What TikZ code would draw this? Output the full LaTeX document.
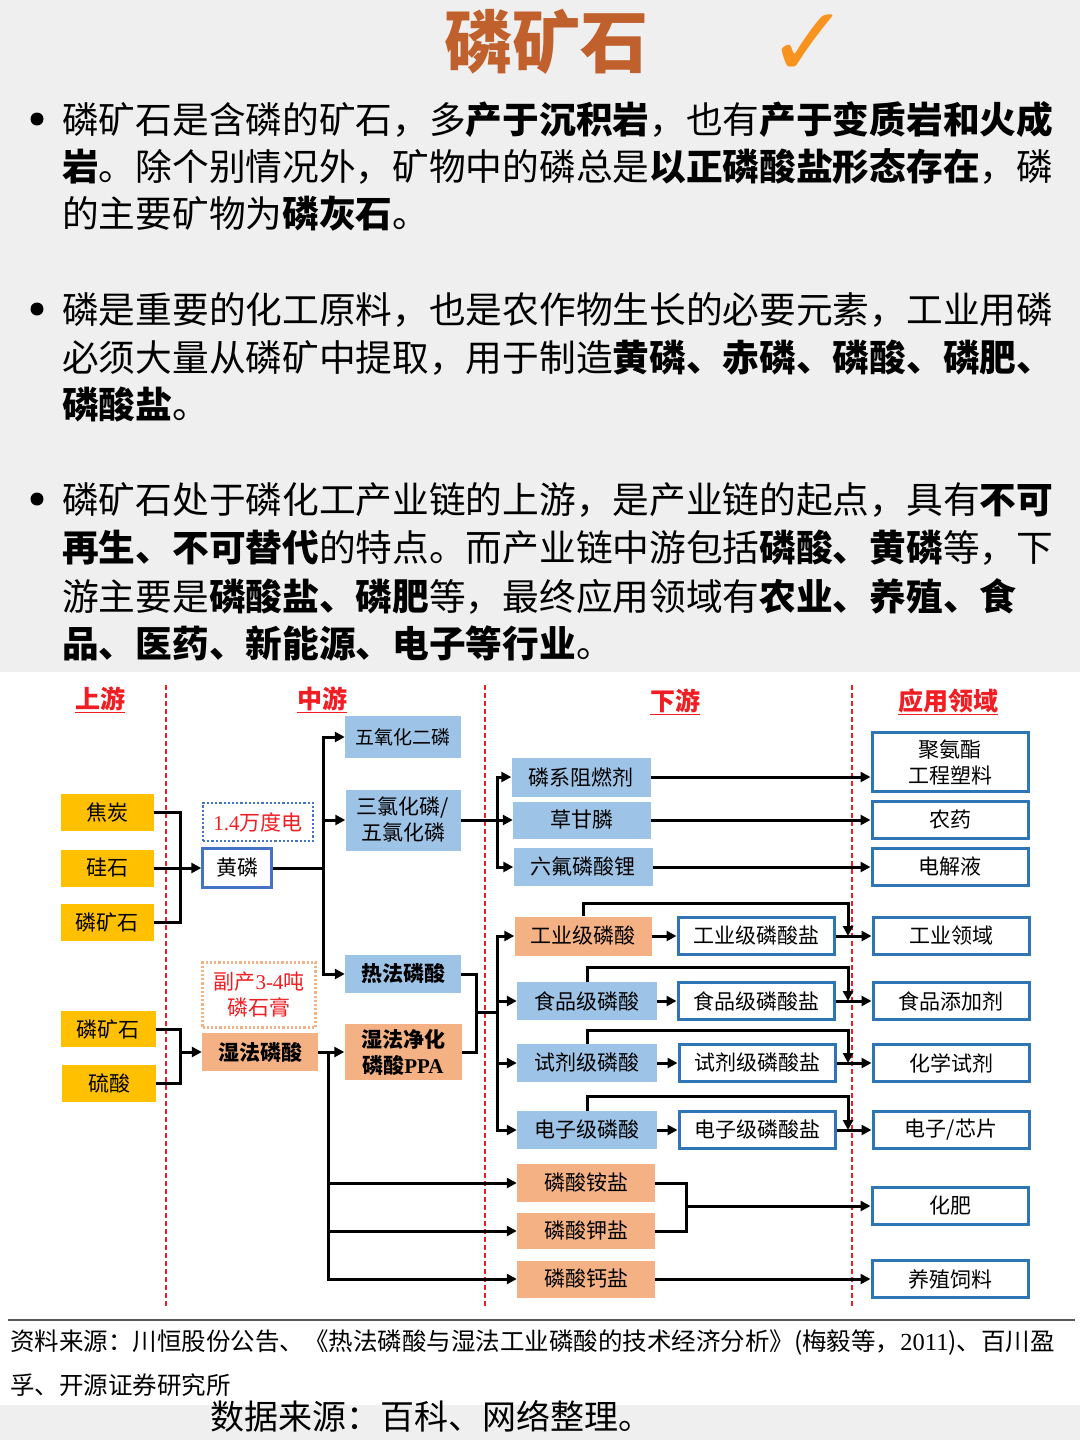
\documentclass[tikz,border=0pt]{standalone}
\usepackage{fontspec}
\setmainfont{Noto Sans CJK SC}
\newfontfamily\dejavu{DejaVu Sans}
\newfontfamily\lat{Liberation Serif}
\usetikzlibrary{arrows.meta}
\definecolor{paper}{HTML}{EFEFEF}
\definecolor{cyel}{HTML}{FFC000}
\definecolor{cblu}{HTML}{9DC3E6}
\definecolor{cora}{HTML}{F4B183}
\definecolor{cbord}{HTML}{2E75B6}
\definecolor{chl}{HTML}{4472C4}
\definecolor{cred}{HTML}{F01E23}
\definecolor{ctitle}{HTML}{C0602C}
\definecolor{ccheck}{HTML}{F7931E}
\begin{document}
\begin{tikzpicture}[x=1pt,y=-1pt,
  conn/.style={line width=3pt, draw=black},
  conna/.style={conn, -{Triangle[length=10pt,width=10pt]}},
  box/.style={inner sep=0pt, minimum height=38pt, align=center, font=\fontsize{21}{26}\selectfont, text=black},
  ybox/.style={box, fill=cyel},
  bbox/.style={box, fill=cblu},
  obox/.style={box, fill=cora},
  wbox/.style={box, fill=white, draw=cbord, line width=3pt},
  note/.style={box, fill=white, dotted, line width=2.2pt, text=cred},
  hdr/.style={inner sep=0pt, text=cred, font=\fontsize{25}{28}\selectfont\bfseries},
  para/.style={anchor=west, inner sep=0pt, font=\fontsize{36.7}{44}\selectfont, text=black},
  rdash/.style={draw=cred, line width=1.5pt, dash pattern=on 5pt off 3pt}
]
\useasboundingbox (0,0) rectangle (1080,1440);
\fill[paper] (0,0) rectangle (1080,1440);
\fill[white] (0,672) rectangle (1080,1405);

% title
\node[inner sep=0pt, text=ctitle, font=\fontsize{68}{72}\selectfont\bfseries] (title) at (546,42) {磷矿石};
\node[inner sep=0pt, text=ccheck, font=\fontsize{98}{100}\selectfont\dejavu\bfseries] (check) at (809,46) {✓};

% paragraphs
\fill (37,119) circle (6.5);
\node[para] (p11) at (62,120) {磷矿石是含磷的矿石，多{\bfseries 产于沉积岩}，也有{\bfseries 产于变质岩和火成}};
\node[para] (p12) at (62,167) {{\bfseries 岩}。除个别情况外，矿物中的磷总是{\bfseries 以正磷酸盐形态存在}，磷};
\node[para] (p13) at (62,214) {的主要矿物为{\bfseries 磷灰石}。};

\fill (37,309) circle (6.5);
\node[para] (p21) at (62,310) {磷是重要的化工原料，也是农作物生长的必要元素，工业用磷};
\node[para] (p22) at (62,358) {必须大量从磷矿中提取，用于制造{\bfseries 黄磷、赤磷、磷酸、磷肥、}};
\node[para] (p23) at (62,405) {{\bfseries 磷酸盐}。};

\fill (37,499) circle (6.5);
\node[para] (p31) at (62,500) {磷矿石处于磷化工产业链的上游，是产业链的起点，具有{\bfseries 不可}};
\node[para] (p32) at (62,548) {{\bfseries 再生、不可替代}的特点。而产业链中游包括{\bfseries 磷酸、黄磷}等，下};
\node[para] (p33) at (62,596) {游主要是{\bfseries 磷酸盐、磷肥}等，最终应用领域有{\bfseries 农业、养殖、食}};
\node[para] (p34) at (62,643) {{\bfseries 品、医药、新能源、电子等行业}。};

% headers
\node[hdr] (h1) at (100,700) {\underline{上游}};
\node[hdr] (h2) at (322,700) {\underline{中游}};
\node[hdr] (h3) at (675,702) {\underline{下游}};
\node[hdr] (h4) at (948,702) {\underline{应用领域}};

% dashed separators
\draw[rdash] (166,685) -- (166,1308);
\draw[rdash] (485,685) -- (485,1308);
\draw[rdash] (852,685) -- (852,1308);

% upstream
\node[ybox, minimum width=93pt, minimum height=37pt] (jt) at (107,812) {焦炭};
\node[ybox, minimum width=93pt, minimum height=37pt] (gs) at (107,868) {硅石};
\node[ybox, minimum width=93pt, minimum height=37pt] (lk1) at (107,922) {磷矿石};
\node[ybox, minimum width=95pt, minimum height=36pt] (lk2) at (108,1029) {磷矿石};
\node[ybox, minimum width=94pt, minimum height=37pt] (ls) at (109,1083) {硫酸};

% midstream
\node[box, fill=white, draw=chl, line width=2.4pt, minimum width=69pt, minimum height=39pt] (hl) at (237,868) {黄磷};
\node[note, draw=chl, minimum width=110pt, minimum height=38pt] (dian) at (258,822) {{\lat 1.4}万度电};
\node[obox, minimum width=116pt, font=\fontsize{21}{26}\selectfont\bfseries] (sf) at (260,1052) {湿法磷酸};
\node[note, draw=cora, minimum width=113pt, minimum height=65pt] (sg) at (259,995) {副产{\lat 3-4}吨\\磷石膏};

\node[bbox, minimum width=116pt, minimum height=42pt, font=\fontsize{19}{24}\selectfont] (wy) at (403,737) {五氧化二磷};
\node[bbox, minimum width=115pt, minimum height=61pt] (sl) at (403,820) {三氯化磷/\\五氯化磷};
\node[bbox, minimum width=116pt, font=\fontsize{21}{26}\selectfont\bfseries] (rf) at (403,974) {热法磷酸};
\node[obox, minimum width=117pt, minimum height=56pt, font=\fontsize{21}{26}\selectfont\bfseries] (jh) at (403,1052) {湿法净化\\磷酸{\lat PPA}};

% downstream
\node[bbox, minimum width=139pt, minimum height=39pt] (zr) at (581,777) {磷系阻燃剂};
\node[bbox, minimum width=138pt, minimum height=37pt] (cg) at (582,820) {草甘膦};
\node[bbox, minimum width=139pt] (lf) at (583,867) {六氟磷酸锂};
\node[obox, minimum width=137pt, minimum height=39pt] (gj) at (583,936) {工业级磷酸};
\node[bbox, minimum width=140pt] (sp) at (587,1001) {食品级磷酸};
\node[bbox, minimum width=140pt] (sj) at (587,1063) {试剂级磷酸};
\node[bbox, minimum width=140pt] (dz) at (587,1130) {电子级磷酸};
\node[wbox, minimum width=156pt, minimum height=37pt] (gjy) at (756,936) {工业级磷酸盐};
\node[wbox, minimum width=156pt, minimum height=37pt] (spy) at (756,1001) {食品级磷酸盐};
\node[wbox, minimum width=156pt, minimum height=37pt] (sjy) at (757,1063) {试剂级磷酸盐};
\node[wbox, minimum width=156pt, minimum height=37pt] (dzy) at (757,1130) {电子级磷酸盐};
\node[obox, minimum width=138pt] (ay) at (586,1183) {磷酸铵盐};
\node[obox, minimum width=138pt, minimum height=36pt] (jy) at (586,1231) {磷酸钾盐};
\node[obox, minimum width=138pt, minimum height=37pt] (gy) at (586,1279) {磷酸钙盐};

% application
\node[wbox, minimum width=156pt, minimum height=59pt] (jaz) at (950,762) {聚氨酯\\工程塑料};
\node[wbox, minimum width=156pt, minimum height=37pt] (ny) at (950,820) {农药};
\node[wbox, minimum width=156pt, minimum height=37pt] (djy) at (950,867) {电解液};
\node[wbox, minimum width=156pt, minimum height=37pt] (gyly) at (951,936) {工业领域};
\node[wbox, minimum width=156pt, minimum height=37pt] (tjj) at (951,1001) {食品添加剂};
\node[wbox, minimum width=156pt, minimum height=37pt] (hxsj) at (951,1063) {化学试剂};
\node[wbox, minimum width=156pt, minimum height=37pt] (dzxp) at (951,1130) {电子/芯片};
\node[wbox, minimum width=156pt, minimum height=37pt] (hf) at (950,1206) {化肥};
\node[wbox, minimum width=156pt, minimum height=37pt] (yz) at (950,1279) {养殖饲料};

% junction coordinates
\coordinate (u1) at (180,868);
\coordinate (u2) at (180,1052);
\coordinate (m1) at (323,868);
\coordinate (w1) at (328,1052);
\coordinate (d1) at (497,820);
\coordinate (r1) at (476,1012);
\coordinate (d2) at (497,1012);
\coordinate (f1) at (686,1206);
\coordinate (b1) at (848,936);
\coordinate (b2) at (848,1001);
\coordinate (b3) at (848,1063);
\coordinate (b4) at (848,1130);

% upstream connectors
\draw[conn] (jt.east) -| (u1);
\draw[conn] (lk1.east) -| (u1);
\draw[conna] (gs.east) -- (hl.west);
\draw[conn] (lk2.east) -| (u2);
\draw[conn] (ls.east) -| (u2);
\draw[conna] (u2) -- (sf.west);

% midstream connectors
\draw[conn] (hl.east) -- (m1);
\draw[conna] (m1) |- (wy.west);
\draw[conna] (m1) |- (sl.west);
\draw[conna] (m1) |- (rf.west);
\draw[conna] (sf.east) -- (jh.west);
\draw[conna] (w1) |- (ay.west);
\draw[conna] (w1) |- (jy.west);
\draw[conna] (w1) |- (gy.west);

\draw[conn] (sl.east) -- (d1);
\draw[conna] (d1) |- (zr.west);
\draw[conna] (d1) -- (cg.west);
\draw[conna] (d1) |- (lf.west);

\draw[conn] (rf.east) -| (r1);
\draw[conn] (jh.east) -| (r1);
\draw[conn] (r1) -- (d2);
\draw[conna] (d2) |- (gj.west);
\draw[conna] (d2) |- (sp.west);
\draw[conna] (d2) |- (sj.west);
\draw[conna] (d2) |- (dz.west);

% downstream connectors
\draw[conna] (zr.east) -- (zr.east -| jaz.west);
\draw[conna] (cg.east) -- (ny.west);
\draw[conna] (lf.east) -- (djy.west);

\draw[conna] (gj.east) -- (gjy.west);
\draw[conna] (sp.east) -- (spy.west);
\draw[conna] (sj.east) -- (sjy.west);
\draw[conna] (dz.east) -- (dzy.west);
\draw[conna] (gjy.east) -- (gyly.west);
\draw[conna] (spy.east) -- (tjj.west);
\draw[conna] (sjy.east) -- (hxsj.west);
\draw[conna] (dzy.east) -- (dzxp.west);
\draw[conna] (gj.north) -- ++(0,-13) -| (b1);
\draw[conna] (sp.north) -- ++(0,-14) -| (b2);
\draw[conna] (sj.north) -- ++(0,-13) -| (b3);
\draw[conna] (dz.north) -- ++(0,-14) -| (b4);

\draw[conn] (ay.east) -| (f1);
\draw[conn] (jy.east) -| (f1);
\draw[conna] (f1) -- (hf.west);
\draw[conna] (gy.east) -- (yz.west);

% footer
\draw[line width=2.5pt, draw=black!65] (8,1320) -- (1075,1320);
\node[anchor=west, inner sep=0pt, font=\fontsize{24.5}{28}\selectfont] (src1) at (10,1342) {资料来源：川恒股份公告、《热法磷酸与湿法工业磷酸的技术经济分析》(梅毅等，{\lat 2011})、百川盈};
\node[anchor=west, inner sep=0pt, font=\fontsize{24.5}{28}\selectfont] (src2) at (10,1385) {孚、开源证券研究所};
\node[anchor=west, inner sep=0pt, font=\fontsize{34}{38}\selectfont] (src3) at (210,1416) {数据来源：百科、网络整理。};
\end{tikzpicture}
\end{document}
